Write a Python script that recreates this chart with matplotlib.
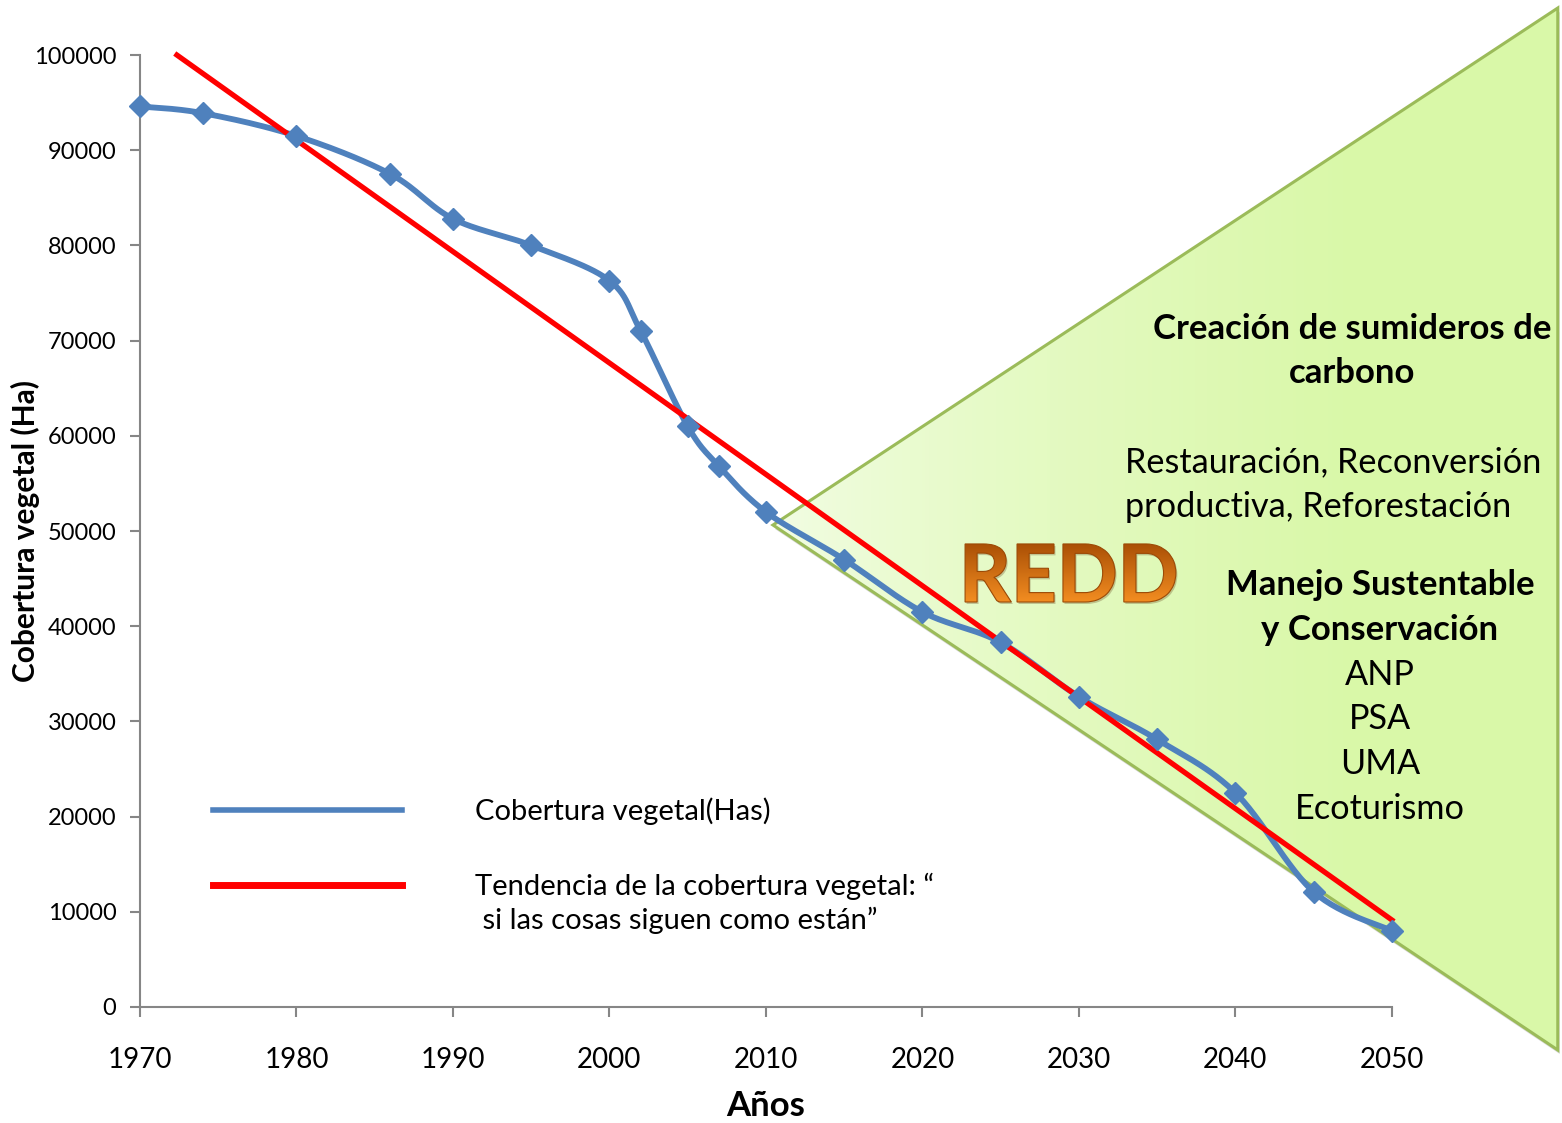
import numpy as np
import matplotlib
matplotlib.use("Agg")
import matplotlib.pyplot as plt
from matplotlib.patches import Polygon, PathPatch
from matplotlib.textpath import TextPath
from matplotlib.font_manager import FontProperties
from matplotlib.legend_handler import HandlerLine2D
import matplotlib.transforms as mtransforms

plt.rcParams['font.family'] = ['Lato', 'DejaVu Sans']

# datos de cobertura vegetal (Ha)
years = [1970, 1974, 1980, 1986, 1990, 1995, 2000, 2002, 2005, 2007,
         2010, 2015, 2020, 2025, 2030, 2035, 2040, 2045, 2050]
cobertura = [94600, 93900, 91500, 87500, 82800, 80000, 76300, 71000, 61000, 56800,
             52000, 47000, 41500, 38300, 32600, 28100, 22500, 12100, 8000]

# tendencia "si las cosas siguen como están"
trend_years = [1972.36, 2050]
trend_vals = [100000, 9140]

# triangulo REDD (años, Ha)
tri_years = [2010.45, 2060.6, 2060.6]
tri_vals = [50630, 104940, -4520]

x_ticks = [1970, 1980, 1990, 2000, 2010, 2020, 2030, 2040, 2050]
y_ticks = [0, 10000, 20000, 30000, 40000, 50000, 60000, 70000, 80000, 90000, 100000]

lbl_blue = 'Cobertura vegetal(Has)'
lbl_red = 'Tendencia de la cobertura vegetal: “\n si las cosas siguen como están”'


def smooth(xs, ys, n=30):
    # curva suavizada tipo Excel (Bezier / Catmull-Rom)
    p = np.column_stack([xs, ys]).astype(float)
    p = np.vstack([p[0], p, p[-1]])
    out = []
    t = np.linspace(0, 1, n)[:, None]
    for i in range(1, len(p) - 2):
        p0, p1, p2, p3 = p[i - 1], p[i], p[i + 1], p[i + 2]
        b1 = p1 + (p2 - p0) / 6
        b2 = p2 - (p3 - p1) / 6
        seg = ((1 - t) ** 3) * p1 + 3 * ((1 - t) ** 2) * t * b1 + 3 * (1 - t) * t ** 2 * b2 + t ** 3 * p2
        out.append(seg)
    out = np.vstack(out)
    return out[:, 0], out[:, 1]


W, H = 1562, 1123
fig = plt.figure(figsize=(15.62, 11.23), dpi=100)
bg = fig.add_axes([0, 0, 1, 1], zorder=0)
bg.axis('off')

ax = fig.add_axes([0.0896, 0.1033, 0.8015, 0.8477], zorder=1)
ax.patch.set_alpha(0)
ax.set_xlim(1970, 2050)
ax.set_ylim(0, 100000)

# triangulo verde con degradado
tri = list(zip(tri_years, tri_vals))
shadow = Polygon(tri, closed=True, facecolor='#808080', alpha=0.3, edgecolor='none',
                 transform=ax.transData + mtransforms.ScaledTranslation(2 / 100, -4 / 100, fig.dpi_scale_trans))
bg.add_patch(shadow)

xs = np.linspace(0, 1, 400)
tt = np.clip((xs - 0.49) / 0.38, 0, 1) ** 0.7
tt = tt[:, None]
c_left = np.array([0xF4, 0xFD, 0xE8]) / 255
c_right = np.array([0xD9, 0xF8, 0xA8]) / 255
row = c_left * (1 - tt) + c_right * tt
grad = np.repeat(row[None, :, :], 2, axis=0)
im = bg.imshow(grad, extent=[0, 1, 0, 1], aspect='auto', origin='lower', zorder=1)
im.set_clip_path(Polygon(tri, closed=True, transform=ax.transData))

edge = Polygon(tri, closed=True, facecolor='none', edgecolor='#9BBB59', linewidth=2.2,
               clip_on=False, zorder=0.5)
ax.add_patch(edge)

# series
sx, sy = smooth(years, cobertura)
ax.plot(sx, sy, color='#4F81BD', linewidth=4.2, zorder=2, solid_capstyle='round', clip_on=False)
ax.plot(years, cobertura, linestyle='none', marker='D', markersize=11,
        color='#4F81BD', zorder=3, clip_on=False)
ax.plot(trend_years, trend_vals, color='#FF0000', linewidth=3.8, zorder=2.5, clip_on=False)

# ejes
for s in ['top', 'right']:
    ax.spines[s].set_visible(False)
for s in ['left', 'bottom']:
    ax.spines[s].set_color('#868686')
    ax.spines[s].set_linewidth(1.5)
ax.set_xticks(x_ticks)
ax.set_yticks(y_ticks)
ax.tick_params(axis='y', length=7, width=1.5, color='#868686', labelsize=17, pad=10)
ax.tick_params(axis='x', length=7, width=1.5, color='#868686', labelsize=20, pad=22)
ax.set_xlabel('Años', fontsize=25, fontweight='bold', labelpad=12)
ax.set_ylabel('Cobertura vegetal (Ha)', fontsize=21.5, fontweight='bold')
ax.yaxis.set_label_coords(-0.0795, 0.5)


# leyenda
class TopLine(HandlerLine2D):
    def create_artists(self, legend, orig_handle, xdescent, ydescent, width, height, fontsize, trans):
        arts = super().create_artists(legend, orig_handle, xdescent, ydescent, width, height, fontsize, trans)
        for a in arts:
            a.set_ydata(np.asarray(a.get_ydata()) + 13.5)
        return arts


h_blue = plt.Line2D([], [], color='#4F81BD', linewidth=4)
h_red = plt.Line2D([], [], color='#FF0000', linewidth=5)
leg = ax.legend([h_blue, h_red], [lbl_blue, lbl_red], loc='upper left',
                bbox_to_anchor=(0.0373, 0.248), frameon=False, fontsize=21,
                handlelength=6.5, handletextpad=2.5, labelspacing=1.64,
                handler_map={h_red: TopLine()})
leg.get_texts()[1].set_linespacing(1.3)

# texto REDD con degradado naranja
tp = TextPath((0, 0), 'REDD', size=80, prop=FontProperties(family='Lato', weight='black'))
ttrans = mtransforms.Affine2D().scale(1 / W, 1 / H).translate(959 / W, 1 - 602 / H) + fig.transFigure
redd_shadow = PathPatch(tp, facecolor='#6a4a20', edgecolor='none', alpha=0.3,
                        transform=ttrans + mtransforms.ScaledTranslation(1.5 / 100, -2 / 100, fig.dpi_scale_trans),
                        zorder=2)
bg.add_patch(redd_shadow)
ys = np.linspace(0, 1, 200)[:, None]
c_top = np.array([0xA8, 0x4E, 0x05]) / 255
c_bot = np.array([0xF5, 0x8F, 0x22]) / 255
col = c_bot * (1 - ys) + c_top * ys
tgrad = np.repeat(col[:, None, :], 2, axis=1)
tim = bg.imshow(tgrad, extent=[955 / W, 1185 / W, 1 - 604 / H, 1 - 542 / H],
                aspect='auto', origin='lower', zorder=3)
tim.set_clip_path(PathPatch(tp, transform=ttrans))
bg.add_patch(PathPatch(tp, facecolor='none', edgecolor='#9C4A06', linewidth=0.8,
                       transform=ttrans, zorder=4))
bg.set_xlim(0, 1)
bg.set_ylim(0, 1)


# textos del lado derecho
def ftext(x, y, s, **kw):
    fig.text(x / W, 1 - y / H, s, va='center', **kw)


ftext(1352, 329, 'Creación de sumideros de', ha='center', fontsize=25, fontweight='bold')
ftext(1352, 373, 'carbono', ha='center', fontsize=25, fontweight='bold')
ftext(1125, 462, 'Restauración, Reconversión', ha='left', fontsize=24.7)
ftext(1125, 507, 'productiva, Reforestación', ha='left', fontsize=24.7)
ftext(1380, 585, 'Manejo Sustentable', ha='center', fontsize=25, fontweight='bold')
ftext(1380, 630, 'y Conservación', ha='center', fontsize=25, fontweight='bold')
ftext(1380, 675, 'ANP', ha='center', fontsize=24.7)
ftext(1380, 719, 'PSA', ha='center', fontsize=24.7)
ftext(1380, 764, 'UMA', ha='center', fontsize=24.7)
ftext(1380, 809, 'Ecoturismo', ha='center', fontsize=24.7)

fig.savefig('out.png', dpi=100)
